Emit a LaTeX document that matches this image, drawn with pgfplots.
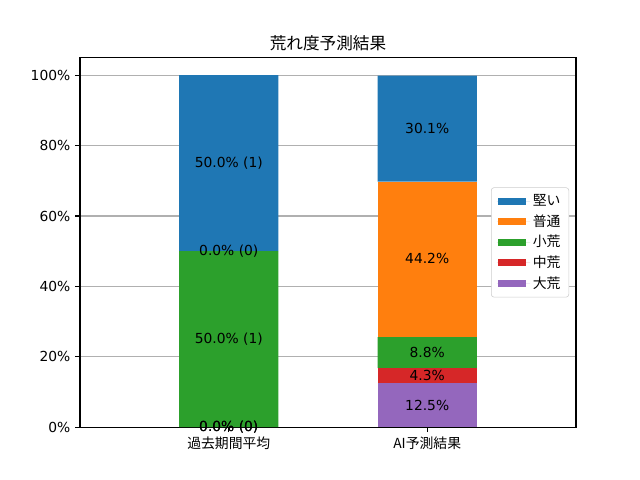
\documentclass[border=0pt]{standalone}
\usepackage{pgfplots}
\pgfplotsset{compat=1.18}
\usepackage{fontspec}
\setmainfont{DejaVu Sans}
\newfontfamily\jp{Noto Sans CJK JP}
\definecolor{c0}{HTML}{1F77B4}
\definecolor{c1}{HTML}{FF7F0E}
\definecolor{c2}{HTML}{2CA02C}
\definecolor{c3}{HTML}{D62728}
\definecolor{c4}{HTML}{9467BD}
\definecolor{gridgray}{HTML}{B0B0B0}
\definecolor{leggray}{HTML}{CCCCCC}
\begin{document}
\begin{tikzpicture}
\path (-0.8in,-0.528in) rectangle (5.6in,4.272in);
\begin{axis}[
  at={(0,0)}, anchor=south west, scale only axis,
  width=4.96in, height=3.696in,
  xmin=-0.75, xmax=1.75, ymin=0, ymax=105,
  axis on top=false,
  ybar stacked, bar width=0.5,
  xtick={0,1}, xticklabels={{\jp 過去期間平均},{\jp AI予測結果}},
  ytick={0,20,40,60,80,100},
  yticklabels={0\%,20\%,40\%,60\%,80\%,100\%},
  /pgf/number format/assume math mode=true,
  ymajorgrids, grid style={color=gridgray, line width=0.8pt},
  tick align=outside, tick pos=left, major tick length=3.5pt,
  axis line style={line width=0.8pt},
  tick style={line width=0.8pt, black},
  title={\jp 荒れ度予測結果},
  title style={font=\fontsize{12}{14}\selectfont, yshift=-5pt},
  reverse legend,
  legend cell align=left,
  legend style={at={(0.986,0.5)}, anchor=east, draw=leggray, fill=white, rounded corners=2pt,
    font=\jp, row sep=1pt, inner xsep=4pt, inner ysep=3pt},
  legend image code/.code={\fill[#1, sharp corners] (1pt,-2.5pt) rectangle (21pt,2.5pt); \path (0pt,0pt) -- (24pt,0pt);},
]
\addplot[fill=c4, draw=none] coordinates {(0,0) (1,12.5)};
\addlegendentry{大荒}
\addplot[fill=c3, draw=none] coordinates {(0,0) (1,4.3)};
\addlegendentry{中荒}
\addplot[fill=c2, draw=none] coordinates {(0,50) (1,8.8)};
\addlegendentry{小荒}
\addplot[fill=c1, draw=none] coordinates {(0,0) (1,44.2)};
\addlegendentry{普通}
\addplot[fill=c0, draw=none] coordinates {(0,50) (1,30.1)};
\addlegendentry{堅い}
\end{axis}
\begin{axis}[
  at={(0,0)}, anchor=south west, scale only axis,
  width=4.96in, height=3.696in,
  xmin=-0.75, xmax=1.75, ymin=0, ymax=105,
  hide axis, clip=false]
\addplot[draw=none, mark=none, nodes near coords, nodes near coords align={center},
  point meta=explicit symbolic,
  every node near coord/.append style={text=black, inner sep=0pt}]
  coordinates {(0,0) [0.0\% (0)] (0,0) [0.0\% (0)] (0,25) [50.0\% (1)] (0,50) [0.0\% (0)] (0,75) [50.0\% (1)]
  (1,6.25) [12.5\%] (1,14.65) [4.3\%] (1,21.2) [8.8\%] (1,47.8) [44.2\%] (1,84.95) [30.1\%]};
\end{axis}
\end{tikzpicture}
\end{document}
